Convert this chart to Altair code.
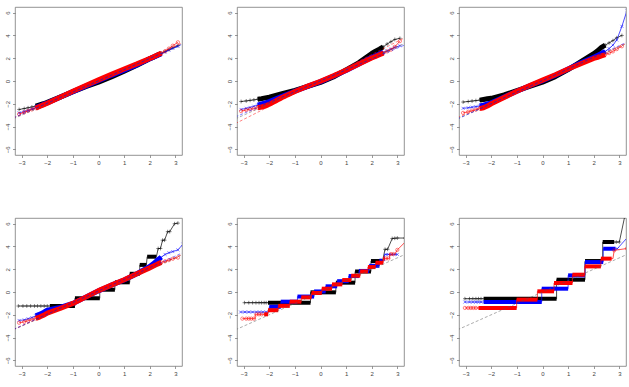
import altair as alt
import pandas as pd

# ---------------- data ----------------
X_C = [-3.1, -2.9, -2.75, -2.6, -2.45, -2.3, -2.15, -2.0, -1.5, -1.0, -0.5, 0.0,
       0.5, 1.0, 1.5, 2.0, 2.15, 2.3, 2.45, 2.6, 2.75, 2.9, 3.1]
X_TICKS = [-3, -2, -1, 0, 1, 2, 3]
Y_TICKS = [-6, -4, -2, 0, 2, 4, 6]

# panel 1 (top left)
P1_BLACK = [-2.5, -2.42, -2.35, -2.28, -2.2, -2.1, -2.0, -1.88, -1.42, -0.95, -0.5, -0.1,
            0.35, 0.85, 1.38, 1.95, 2.1, 2.27, 2.42, 2.58, 2.75, 2.9, 3.1]
P1_BLUE = [-2.8, -2.68, -2.58, -2.46, -2.34, -2.2, -2.06, -1.93, -1.42, -0.93, -0.45, 0.02,
           0.5, 0.95, 1.42, 1.95, 2.1, 2.25, 2.4, 2.55, 2.72, 2.88, 3.05]
P1_RED = [-2.9, -2.75, -2.62, -2.5, -2.38, -2.24, -2.1, -1.96, -1.42, -0.9, -0.4, 0.1,
          0.58, 1.05, 1.5, 1.98, 2.12, 2.28, 2.44, 2.62, 2.85, 3.1, 3.4]
P1_LINES = [("#555555", 0.0, 1.0), ("#ff0000", 0.08, 1.0), ("#0000ff", 0.02, 0.98)]

# panel 2 (top middle)
P2_BLACK = [-1.8, -1.75, -1.7, -1.66, -1.6, -1.55, -1.48, -1.42, -1.12, -0.82, -0.48, -0.12,
            0.35, 0.98, 1.62, 2.42, 2.62, 2.8, 3.0, 3.25, 3.45, 3.65, 3.75]
P2_BLUE = [-2.5, -2.4, -2.32, -2.22, -2.12, -2.02, -1.92, -1.8, -1.35, -0.9, -0.48, -0.05,
           0.42, 0.92, 1.5, 2.08, 2.22, 2.38, 2.52, 2.65, 2.8, 2.95, 3.1]
P2_RED = [-2.65, -2.55, -2.48, -2.42, -2.35, -2.28, -2.2, -2.05, -1.45, -0.92, -0.45, -0.02,
          0.45, 0.95, 1.5, 2.02, 2.15, 2.3, 2.45, 2.6, 2.75, 3.0, 3.5]
P2_LINES = [("#555555", 0.0, 1.0), ("#ff0000", 0.05, 1.14), ("#0000ff", 0.02, 0.956)]

# panel 3 (top right)
P3_BLACK = [-1.85, -1.8, -1.76, -1.72, -1.68, -1.62, -1.56, -1.52, -1.22, -0.84, -0.48, -0.1,
            0.38, 1.0, 1.7, 2.4, 2.65, 2.95, 3.15, 3.35, 3.55, 3.8, 4.0]
P3_BLUE_X = X_C + [3.3]
P3_BLUE = [-2.4, -2.35, -2.3, -2.25, -2.2, -2.12, -2.02, -1.92, -1.4, -0.9, -0.42, 0.02,
           0.5, 1.05, 1.6, 2.08, 2.25, 2.42, 2.6, 2.85, 3.15, 3.6, 4.8, 6.2]
P3_RED = [-2.8, -2.7, -2.6, -2.52, -2.43, -2.35, -2.2, -2.0, -1.45, -0.9, -0.4, 0.08,
          0.55, 1.05, 1.52, 1.98, 2.08, 2.2, 2.32, 2.45, 2.6, 2.8, 3.05]
P3_LINES = [("#555555", 0.0, 1.0), ("#ff0000", 0.07, 0.99), ("#0000ff", 0.05, 1.02)]

# panel 4 (bottom left)
P4_BLACK_LY = [-1.23, -0.55, 0.2, 0.85, 1.6, 2.38, 3.1]
P4_BLACK_LX0 = [-3.13, -0.92, 0.05, 0.64, 1.22, 1.61, 1.9]
P4_BLACK_LX1 = [-0.92, 0.05, 0.64, 1.22, 1.61, 1.87, 2.26]
P4_BLACK_DENSE = [-1.9, 2.26]
P4_BLACK_MX = [-3.13, -2.95, -2.8, -2.65, -2.5, -2.38, -2.25, -2.12, -2.0,
               2.33, 2.42, 2.5, 2.58, 2.7, 2.78, 2.97, 3.1]
P4_BLACK_MY = [-1.23, -1.23, -1.23, -1.23, -1.23, -1.23, -1.23, -1.23, -1.23,
               3.82, 3.82, 4.55, 4.55, 5.3, 5.3, 6.0, 6.05]
P4_BLUE_X = X_C + [3.3]
P4_BLUE = [-2.5, -2.45, -2.35, -2.25, -2.1, -1.95, -1.8, -1.6, -1.35, -1.0, -0.45, 0.1,
           0.6, 1.05, 1.6, 2.25, 2.5, 2.8, 3.05, 3.3, 3.45, 3.55, 3.7, 4.2]
P4_RED = [-2.7, -2.62, -2.52, -2.42, -2.32, -2.2, -2.05, -1.85, -1.45, -1.0, -0.45, 0.12,
          0.6, 1.08, 1.6, 2.12, 2.28, 2.45, 2.6, 2.7, 2.8, 2.92, 3.02]
P4_LINES = [("#555555", 0.0, 1.0), ("#ff0000", 0.03, 1.0), ("#0000ff", 0.1, 1.02)]

# panel 5 (bottom middle)
P5_BLACK_LY = [-0.94, -0.03, 0.82, 1.8, 2.72]
P5_BLACK_LX0 = [-2.97, -0.39, 0.6, 1.35, 1.97]
P5_BLACK_LX1 = [-0.39, 0.6, 1.35, 1.97, 2.42]
P5_BLACK_DENSE = [-2.05, 2.42]
P5_BLACK_MX = [-2.97, -2.8, -2.65, -2.52, -2.4, -2.3, -2.2, -2.12, 2.52, 2.62, 2.8, 2.9, 3.0, 3.3]
P5_BLACK_MY = [-0.94, -0.94, -0.94, -0.94, -0.94, -0.94, -0.94, -0.94, 3.75, 3.75, 4.7, 4.72, 4.74, 4.74]
P5_BLUE_LY = [-1.76, -1.3, -0.85, -0.4, 0.05, 0.5, 0.95, 1.4, 1.85, 2.3, 2.75, 3.3]
P5_BLUE_LX0 = [-3.12, -2.0, -1.55, -0.9, -0.25, 0.2, 0.65, 1.1, 1.5, 1.9, 2.3, 2.5]
P5_BLUE_LX1 = [-2.0, -1.55, -0.9, -0.25, 0.2, 0.65, 1.1, 1.5, 1.9, 2.3, 2.5, 3.0]
P5_BLUE_DENSE = [-2.0, 2.4]
P5_BLUE_MX = [-3.12, -2.95, -2.8, -2.65, -2.5, -2.38, -2.25, -2.12, 2.55, 2.65, 2.77, 2.9, 3.0]
P5_BLUE_MY = [-1.76, -1.76, -1.76, -1.76, -1.76, -1.76, -1.76, -1.76, 3.3, 3.3, 3.3, 3.3, 3.3]
P5_RED_LY = [-2.34, -1.96, -1.6, -1.22, -0.85, -0.47, -0.09, 0.29, 0.67, 1.05, 1.43, 1.81,
             2.19, 2.57, 2.95, 3.33]
P5_RED_LX0 = [-3.05, -2.55, -2.05, -1.65, -1.2, -0.75, -0.35, 0.05, 0.45, 0.85, 1.2, 1.55,
              1.85, 2.15, 2.45, 2.7]
P5_RED_LX1 = [-2.55, -2.05, -1.65, -1.2, -0.75, -0.35, 0.05, 0.45, 0.85, 1.2, 1.55, 1.85,
              2.15, 2.45, 2.7, 2.9]
P5_RED_DENSE = [-2.2, 2.5]
P5_RED_MX = [-3.05, -2.9, -2.8, -2.7, -2.6, -2.5, -2.4, -2.3, 2.55, 2.65, 2.75, 2.85, 3.0, 3.4]
P5_RED_MY = [-2.34, -2.34, -2.34, -2.34, -2.34, -1.96, -1.96, -1.96, 2.95, 2.95, 3.33, 3.33, 3.7, 4.6]
P5_LINES = [("#555555", 0.0, 1.0)]

# panel 6 (bottom right)
P6_BLACK_LY = [-0.59, 1.08, 2.72, 4.39]
P6_BLACK_LX0 = [-3.03, 0.55, 1.66, 2.35]
P6_BLACK_LX1 = [0.55, 1.66, 2.35, 2.8]
P6_BLACK_DENSE = [-2.3, 2.8]
P6_BLACK_MX = [-3.03, -2.85, -2.72, -2.6, -2.5, -2.4, 2.88, 3.0, 3.3]
P6_BLACK_MY = [-0.59, -0.59, -0.59, -0.59, -0.59, -0.59, 4.39, 4.39, 7.6]
P6_BLUE_LY = [-0.88, 0.29, 1.46, 2.63, 3.8]
P6_BLUE_LX0 = [-3.03, -0.03, 1.0, 1.66, 2.37]
P6_BLUE_LX1 = [-0.03, 1.0, 1.66, 2.37, 2.85]
P6_BLUE_DENSE = [-2.3, 2.85]
P6_BLUE_MX = [-3.03, -2.85, -2.72, -2.6, -2.5, -2.4, 2.92, 3.4]
P6_BLUE_MY = [-0.88, -0.88, -0.88, -0.88, -0.88, -0.88, 3.8, 5.0]
P6_RED_LY = [-1.4, -0.67, 0.06, 0.79, 1.52, 2.25, 2.93]
P6_RED_LX0 = [-3.03, -1.01, -0.2, 0.45, 1.17, 1.65, 2.28]
P6_RED_LX1 = [-1.01, -0.2, 0.45, 1.17, 1.65, 2.28, 2.75]
P6_RED_DENSE = [-2.5, 2.7]
P6_RED_MX = [-3.03, -2.9, -2.8, -2.7, -2.6, 2.8, 3.3]
P6_RED_MY = [-1.4, -1.4, -1.4, -1.4, -1.4, 3.66, 3.82]
P6_LINES = [("#555555", 0.0, 1.0)]

# ---------------- styling ----------------
COL = {"k": "#000000", "b": "#0000ff", "r": "#ff0000"}
SHAPE = {"k": "M-1,0L1,0M0,-1L0,1", "b": "M-1,-1L1,1M-1,1L1,-1", "r": "circle"}
MSIZE = {"k": 14, "b": 9, "r": 11}
W, H = 167, 148
XS = alt.Scale(domain=[-3.26, 3.26], nice=False, zero=False)
YS = alt.Scale(domain=[-6.5, 6.5], nice=False, zero=False)
XA = alt.Axis(values=X_TICKS, title=None, grid=False)
YA = alt.Axis(values=Y_TICKS, title=None, grid=False, labelAngle=270)


def ex(f="x"):
    return alt.X(f + ":Q", scale=XS, axis=XA)


def ey(f="y"):
    return alt.Y(f + ":Q", scale=YS, axis=YA)


def markers(key, df):
    return alt.Chart(df).mark_point(shape=SHAPE[key], filled=False, size=MSIZE[key],
                                    strokeWidth=0.7, color=COL[key], clip=True
                                    ).encode(x=ex(), y=ey())


def cont_layers(key, xs, ys, lo=-2.45, hi=2.45, mlo=-2.15, mhi=2.15):
    df = pd.DataFrame({"x": xs, "y": ys})
    df["o"] = range(len(df))
    thin = alt.Chart(df).mark_line(color=COL[key], strokeWidth=0.7, clip=True).encode(
        x=ex(), y=ey(), order="o:Q")
    bdf = df[(df.x >= lo) & (df.x <= hi)]
    band = alt.Chart(bdf).mark_line(color=COL[key], strokeWidth=5, clip=True,
                                    strokeJoin="round").encode(x=ex(), y=ey(), order="o:Q")
    mdf = df[(df.x <= mlo) | (df.x >= mhi)]
    return [thin, band, markers(key, mdf)]


def step_layers(key, ly, lx0, lx1, dense, mx, my):
    px, py = [], []
    for y, a, b in zip(ly, lx0, lx1):
        px += [a, b]
        py += [y, y]
    tail = sorted([(x, y) for x, y in zip(mx, my) if x > lx1[-1]])
    px += [t[0] for t in tail]
    py += [t[1] for t in tail]
    pdf = pd.DataFrame({"x": px, "y": py})
    pdf["o"] = range(len(pdf))
    thin = alt.Chart(pdf).mark_line(color=COL[key], strokeWidth=0.7, clip=True).encode(
        x=ex(), y=ey(), order="o:Q")
    rows = []
    for y, a, b in zip(ly, lx0, lx1):
        a2, b2 = max(a, dense[0]), min(b, dense[1])
        if b2 > a2:
            rows.append({"x": a2, "x2": b2, "y": y})
    bdf = pd.DataFrame(rows)
    band = alt.Chart(bdf).mark_rule(color=COL[key], strokeWidth=4, clip=True).encode(
        x=ex(), x2="x2:Q", y=ey())
    mdf = pd.DataFrame({"x": mx, "y": my})
    return [thin, band, markers(key, mdf)]


def line_layers(lines):
    out = []
    for col, a, b in lines:
        df = pd.DataFrame({"x": [-3.5, 3.5], "y": [a + b * -3.5, a + b * 3.5]})
        out.append(alt.Chart(df).mark_line(color=col, strokeWidth=0.7, strokeDash=[3, 2],
                                           clip=True, opacity=0.7).encode(x=ex(), y=ey()))
    return out


def panel(layers):
    return alt.layer(*layers).properties(width=W, height=H)


p1 = panel(cont_layers("k", X_C, P1_BLACK) + cont_layers("b", X_C, P1_BLUE)
           + cont_layers("r", X_C, P1_RED) + line_layers(P1_LINES))
p2 = panel(cont_layers("k", X_C, P2_BLACK) + cont_layers("b", X_C, P2_BLUE)
           + cont_layers("r", X_C, P2_RED) + line_layers(P2_LINES))
p3 = panel(cont_layers("k", X_C, P3_BLACK) + cont_layers("b", P3_BLUE_X, P3_BLUE)
           + cont_layers("r", X_C, P3_RED) + line_layers(P3_LINES))
p4 = panel(step_layers("k", P4_BLACK_LY, P4_BLACK_LX0, P4_BLACK_LX1, P4_BLACK_DENSE,
                       P4_BLACK_MX, P4_BLACK_MY)
           + cont_layers("b", P4_BLUE_X, P4_BLUE) + cont_layers("r", X_C, P4_RED)
           + line_layers(P4_LINES))
p5 = panel(step_layers("k", P5_BLACK_LY, P5_BLACK_LX0, P5_BLACK_LX1, P5_BLACK_DENSE,
                       P5_BLACK_MX, P5_BLACK_MY)
           + step_layers("b", P5_BLUE_LY, P5_BLUE_LX0, P5_BLUE_LX1, P5_BLUE_DENSE,
                         P5_BLUE_MX, P5_BLUE_MY)
           + step_layers("r", P5_RED_LY, P5_RED_LX0, P5_RED_LX1, P5_RED_DENSE,
                         P5_RED_MX, P5_RED_MY)
           + line_layers(P5_LINES))
p6 = panel(step_layers("k", P6_BLACK_LY, P6_BLACK_LX0, P6_BLACK_LX1, P6_BLACK_DENSE,
                       P6_BLACK_MX, P6_BLACK_MY)
           + step_layers("b", P6_BLUE_LY, P6_BLUE_LX0, P6_BLUE_LX1, P6_BLUE_DENSE,
                         P6_BLUE_MX, P6_BLUE_MY)
           + step_layers("r", P6_RED_LY, P6_RED_LX0, P6_RED_LX1, P6_RED_DENSE,
                         P6_RED_MX, P6_RED_MY)
           + line_layers(P6_LINES))

chart = alt.concat(p1, p2, p3, p4, p5, p6, columns=3,
                   spacing={"row": 63, "column": 55}, bounds="flush").properties(
    padding={"left": 4, "top": 6, "right": 0, "bottom": 0},
    background="white",
).configure_view(stroke="#777777", strokeWidth=0.8).configure_axis(
    domain=False, tickSize=2.5, tickColor="#555555", tickWidth=0.6,
    labelFontSize=6, labelColor="#444444", labelFont="Liberation Sans", labelPadding=2,
)

chart.save("out.html", embed_options={"renderer": "svg", "actions": False})
